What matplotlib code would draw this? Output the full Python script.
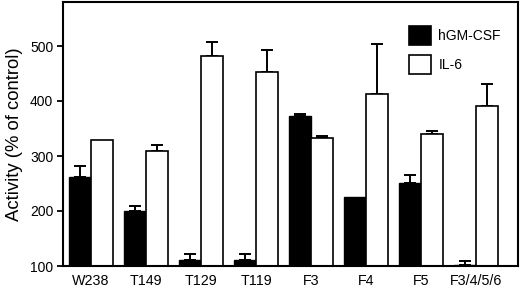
import matplotlib
matplotlib.use("Agg")
import matplotlib.pyplot as plt
import numpy as np

plt.rcParams['font.family'] = ['Liberation Sans', 'DejaVu Sans']

categories = ["W238", "T149", "T129", "T119", "F3", "F4", "F5", "F3/4/5/6"]
gm_csf = [261, 200, 111, 111, 373, 226, 251, 101]
gm_csf_err = [20, 10, 10, 10, 4, 0, 14, 9]
il6 = [330, 310, 482, 452, 332, 412, 340, 391]
il6_err = [0, 10, 26, 40, 4, 91, 5, 40]
yticks = [100, 200, 300, 400, 500]

fig = plt.figure(figsize=(5.2, 2.89), dpi=100)
ax = fig.add_axes([63/520, 1 - 266/289, (518-63)/520, (266-2)/289])

x = np.arange(len(categories))
w = 0.4
base = 100
gm_h = [v - base for v in gm_csf]
il_h = [v - base for v in il6]

ax.bar(x - w/2, gm_h, w, bottom=base, color='black', edgecolor='black', linewidth=1, label='hGM-CSF', zorder=2)
ax.bar(x + w/2, il_h, w, bottom=base, color='white', edgecolor='black', linewidth=1.2, label='IL-6', zorder=2)

for xi, v, e in zip(x - w/2, gm_csf, gm_csf_err):
    if e > 0:
        ax.errorbar(xi, v, yerr=[[0], [e]], fmt='none', ecolor='black', elinewidth=1.4, capsize=4.6, capthick=1.4, zorder=1)
for xi, v, e in zip(x + w/2, il6, il6_err):
    if e > 0:
        ax.errorbar(xi, v, yerr=[[0], [e]], fmt='none', ecolor='black', elinewidth=1.4, capsize=4.6, capthick=1.4, zorder=1)

ax.set_ylim(100, 580)
ax.set_xlim(-0.51, 7.76)
ax.set_yticks(yticks)
ax.set_yticklabels([str(t) for t in yticks], fontsize=10)
ax.set_xticks(x)
ax.set_xticklabels(categories, fontsize=10.3)
ax.tick_params(axis='x', length=0, pad=6)
ax.tick_params(axis='y', direction='out', length=4, width=1.3, pad=3)
for s in ax.spines.values():
    s.set_linewidth(1.5)
ax.set_ylabel("Activity (% of control)", fontsize=13.3, labelpad=5)

leg = ax.legend(loc='upper right', bbox_to_anchor=(0.99, 0.958), frameon=False, fontsize=10,
                handlelength=1.6, handleheight=1.75, handletextpad=0.55, labelspacing=0.75)
for p in leg.get_patches():
    p.set_linewidth(1.2)

fig.savefig("out.png", dpi=100)
